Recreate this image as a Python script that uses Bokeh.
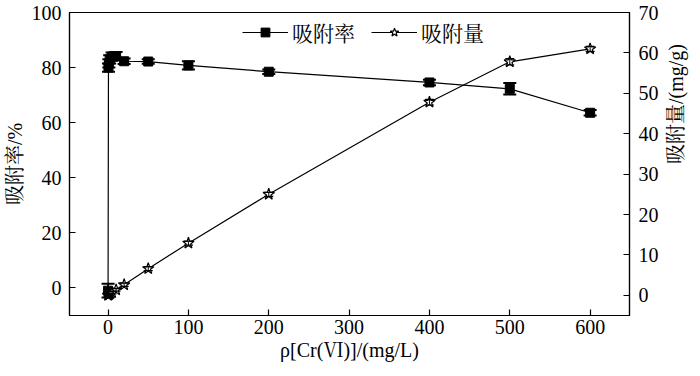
import math
from bokeh.plotting import figure
from bokeh.models import (Range1d, LinearAxis, ColumnDataSource, Whisker, TeeHead,
                          Legend, LegendItem, FixedTicker)
from bokeh.embed import file_html
from bokeh.resources import INLINE

# ---- data ----
conc_rate = [0, 0.5, 1, 2, 5, 10, 20, 50, 100, 200, 400, 500, 600]
rate = [-1.0, 80.0, 81.5, 83.0, 84.0, 84.2, 82.3, 82.2, 80.8, 78.5, 74.6, 72.3, 63.6]
rate_err = [2.5, 1.5, 1.5, 1.5, 1.5, 1.5, 1.0, 0.8, 1.5, 0.8, 1.0, 2.1, 1.0]

conc_q = [0, 0.5, 1, 2, 5, 10, 20, 50, 100, 200, 400, 500, 600]
q = [0.0, 0.07, 0.13, 0.27, 0.67, 1.35, 2.6, 6.6, 12.9, 25.0, 47.8, 57.8, 61.0]
q_err = [0.3, 0.3, 0.3, 0.3, 0.3, 0.3, 0.4, 0.5, 0.5, 0.5, 0.7, 0.8, 0.6]

x_ticks = [0, 100, 200, 300, 400, 500, 600]
left_ticks = [0, 20, 40, 60, 80, 100]
right_ticks = [0, 10, 20, 30, 40, 50, 60, 70]

label_rate = "吸附率"
label_q = "吸附量"
xlabel = "ρ[Cr(Ⅵ)]/(mg/L)"
ylabel_left = "吸附率/%"
ylabel_right = "吸附量/(mg/g)"

FONT = "Liberation Serif, Noto Serif CJK SC, Noto Sans CJK SC"

p = figure(width=700, height=376, output_backend="svg", toolbar_location=None,
           x_range=Range1d(-48, 649), y_range=Range1d(-10, 100),
           min_border_left=67, min_border_right=70, min_border_top=12, min_border_bottom=61)
p.extra_y_ranges = {"right": Range1d(-5, 70)}
p.grid.visible = False
p.outline_line_color = "black"
p.outline_line_width = 1.2
p.background_fill_color = "white"
p.border_fill_color = "white"

def style_axis(ax):
    ax.axis_line_color = "black"
    ax.axis_line_width = 1.2
    ax.major_tick_in = 6
    ax.major_tick_out = 0
    ax.minor_tick_line_color = None
    ax.major_tick_line_color = "black"
    ax.major_tick_line_width = 1.2
    ax.major_label_text_font = FONT
    ax.major_label_text_font_size = "20px"
    ax.major_label_text_color = "black"
    ax.axis_label_text_font = FONT
    ax.axis_label_text_font_size = "20px"
    ax.axis_label_text_font_style = "normal"
    ax.axis_label_text_color = "black"

xa = p.xaxis[0]
style_axis(xa)
xa.ticker = FixedTicker(ticks=x_ticks)
xa.axis_label = xlabel
xa.major_label_standoff = 4
xa.axis_label_standoff = 2

ya = p.yaxis[0]
style_axis(ya)
ya.ticker = FixedTicker(ticks=left_ticks)
ya.axis_label = ylabel_left
ya.major_label_standoff = 8
ya.axis_label_standoff = 3

ra = LinearAxis(y_range_name="right", ticker=FixedTicker(ticks=right_ticks))
style_axis(ra)
ra.major_label_standoff = 9
ra.axis_label = ylabel_right
ra.axis_label_standoff = 14
try:
    ra.axis_label_orientation = math.pi / 2
except Exception:
    pass
p.add_layout(ra, "right")

src_r = ColumnDataSource(dict(x=conc_rate, y=rate,
                              lo=[v - e for v, e in zip(rate, rate_err)],
                              hi=[v + e for v, e in zip(rate, rate_err)]))
src_q = ColumnDataSource(dict(x=conc_q, y=q,
                              lo=[v - e for v, e in zip(q, q_err)],
                              hi=[v + e for v, e in zip(q, q_err)]))

l1 = p.line("x", "y", source=src_r, line_color="black", line_width=1.2)
s1 = p.scatter("x", "y", source=src_r, marker="square", size=9,
               fill_color="black", line_color="black")
l2 = p.line("x", "y", source=src_q, line_color="black", line_width=1.2, y_range_name="right")
s2 = p.scatter("x", "y", source=src_q, marker="star", size=12,
               fill_color="white", line_color="black", line_width=1.2, y_range_name="right")

w1 = Whisker(base="x", lower="lo", upper="hi", source=src_r, dimension="height",
             line_color="black", line_width=1.5, level="overlay",
             upper_head=TeeHead(size=13, line_color="black", line_width=2),
             lower_head=TeeHead(size=13, line_color="black", line_width=2))
p.add_layout(w1)
w2 = Whisker(base="x", lower="lo", upper="hi", source=src_q, dimension="height",
             line_color="black", line_width=1.0, y_range_name="right", level="overlay",
             upper_head=TeeHead(size=9, line_color="black", line_width=1.2),
             lower_head=TeeHead(size=9, line_color="black", line_width=1.2))
p.add_layout(w2)

legend = Legend(items=[LegendItem(label=label_rate, renderers=[l1, s1]),
                       LegendItem(label=label_q, renderers=[l2, s2])],
                orientation="horizontal", location=(173, 268))
legend.border_line_color = None
legend.background_fill_alpha = 0
legend.padding = 0
legend.margin = 0
legend.spacing = 16
legend.glyph_width = 46
legend.glyph_height = 22
legend.label_standoff = 4
legend.label_text_font = FONT
legend.label_text_font_size = "21px"
legend.label_text_color = "black"
p.add_layout(legend, "center")

open("out.html", "w").write(file_html(p, INLINE))
